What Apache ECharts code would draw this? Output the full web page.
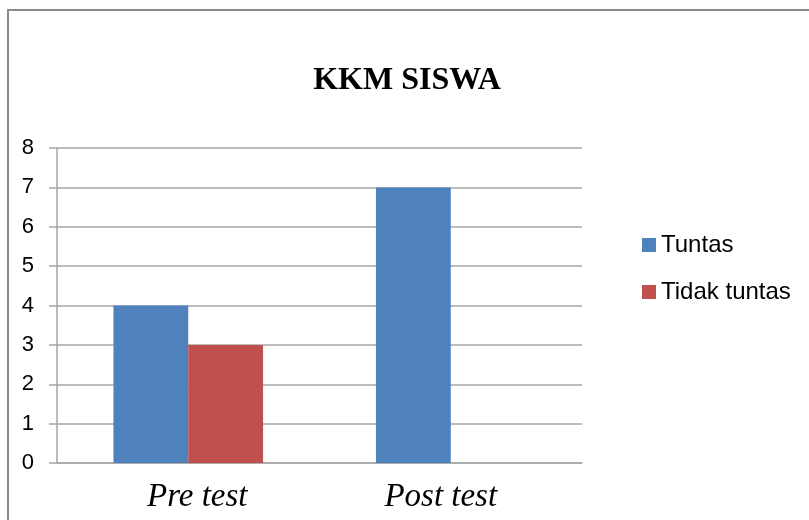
<!DOCTYPE html>
<html>
<head>
<meta charset="utf-8">
<script src="https://cdn.jsdelivr.net/npm/echarts@6/dist/echarts.min.js"></script>
<style>
  html, body { margin: 0; padding: 0; background: #fff; }
  #chart { width: 809px; height: 520px; }
</style>
</head>
<body>
<div id="chart"></div>
<script>
// KKM SISWA - pre test vs post test
const categories = ['Pre test', 'Post test'];
const tuntas = [4, 7];
const tidakTuntas = [3, 0];
const seriesNames = ['Tuntas', 'Tidak tuntas'];

// small nudges so the labels sit like in the original
const labelPadding = [[0, 0, 0, 18], [0, 20, 0, 0]];

const chart = echarts.init(document.getElementById('chart'));

const option = {
    backgroundColor: '#fff',
    animation: false,
    title: {
        text: 'KKM SISWA',
        left: 402,
        textAlign: 'center',
        top: 60,
        textStyle: {
            fontFamily: 'Liberation Serif',
            fontWeight: 'bold',
            fontSize: 32,
            color: '#000'
        }
    },
    graphic: [{
        type: 'rect',
        shape: { x: 8, y: 10, width: 900, height: 600 },
        style: { fill: 'none', stroke: '#8a8a8a', lineWidth: 2 },
        silent: true
    }],
    legend: {
        data: seriesNames,
        orient: 'vertical',
        left: 642,
        top: 233,
        padding: 0,
        itemWidth: 14,
        itemHeight: 14,
        itemGap: 23,
        icon: 'rect',
        textStyle: {
            fontFamily: 'Liberation Sans',
            fontSize: 24,
            color: '#000'
        }
    },
    grid: {
        left: 57,
        right: 227,
        top: 148,
        bottom: 57
    },
    xAxis: {
        type: 'category',
        data: categories.map((c, i) => ({ value: c, textStyle: { padding: labelPadding[i] } })),
        axisLine: { lineStyle: { color: '#a6a6a6', width: 1.5 } },
        axisTick: { show: false },
        axisLabel: {
            fontFamily: 'Liberation Serif',
            fontStyle: 'italic',
            fontSize: 33,
            color: '#000',
            margin: 18
        }
    },
    yAxis: {
        type: 'value',
        min: 0,
        max: 8,
        interval: 1,
        axisLine: { show: true, lineStyle: { color: '#a6a6a6', width: 1.5 } },
        axisTick: { show: true, length: 8, lineStyle: { color: '#a6a6a6', width: 1.5 } },
        axisLabel: {
            fontFamily: 'Liberation Sans',
            fontSize: 22,
            color: '#000',
            margin: 23
        },
        splitLine: { lineStyle: { color: '#a6a6a6', width: 1.5 } }
    },
    series: [
        {
            name: seriesNames[0],
            type: 'bar',
            data: tuntas,
            itemStyle: { color: '#4F81BD' },
            barGap: '0%',
            barCategoryGap: '43%'
        },
        {
            name: seriesNames[1],
            type: 'bar',
            data: tidakTuntas,
            itemStyle: { color: '#C0504D' },
            barGap: '0%',
            barCategoryGap: '43%'
        }
    ]
};

chart.setOption(option);
</script>
</body>
</html>
